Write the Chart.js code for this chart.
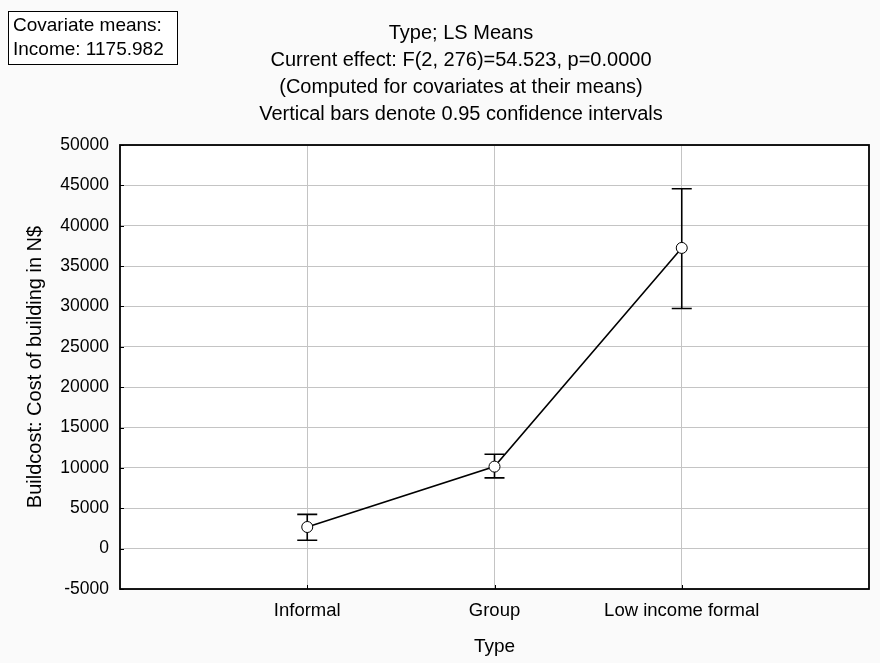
<!DOCTYPE html>
<html><head><meta charset="utf-8">
<script src="https://cdn.jsdelivr.net/npm/chart.js@4/dist/chart.umd.min.js"></script>
<style>html,body{margin:0;padding:0;background:#fafafa;overflow:hidden}</style>
</head><body>
<canvas id="c" width="880" height="663"></canvas>
<script>
const categories = ['Informal', 'Group', 'Low income formal'];
const lsMeans = [2680, 10160, 37250];
const ciLower = [1030, 8760, 29750];
const ciUpper = [4250, 11700, 44580];
const yMin = -5000, yMax = 50000, yStep = 5000;
const titleLines = [
  'Type; LS Means',
  'Current effect: F(2, 276)=54.523, p=0.0000',
  '(Computed for covariates at their means)',
  'Vertical bars denote 0.95 confidence intervals'
];
const covariateLines = ['Covariate means:', 'Income: 1175.982'];
const xTitle = 'Type';
const yTitle = 'Buildcost: Cost of building in N$';

const FONT = '"Liberation Sans", Arial, sans-serif';

const decor = {
  id: 'decor',
  beforeDraw(chart) {
    const {ctx, chartArea: a} = chart;
    ctx.save();
    ctx.fillStyle = '#ffffff';
    ctx.fillRect(a.left, a.top, a.right - a.left, a.bottom - a.top);
    ctx.restore();
  },
  beforeDatasetsDraw(chart) {
    const {ctx} = chart;
    const xs = chart.scales.x, ys = chart.scales.y;
    ctx.save();
    ctx.strokeStyle = '#000';
    ctx.lineWidth = 1.6;
    for (let i = 0; i < lsMeans.length; i++) {
      const x = xs.getPixelForValue(i + 1);
      const yl = ys.getPixelForValue(ciLower[i]);
      const yu = ys.getPixelForValue(ciUpper[i]);
      ctx.beginPath();
      ctx.moveTo(x, yl); ctx.lineTo(x, yu);
      ctx.moveTo(x - 10, yl); ctx.lineTo(x + 10, yl);
      ctx.moveTo(x - 10, yu); ctx.lineTo(x + 10, yu);
      ctx.stroke();
    }
    ctx.restore();
  },
  afterDraw(chart) {
    const {ctx, chartArea: a} = chart;
    const xs = chart.scales.x, ys = chart.scales.y;
    ctx.save();
    ctx.strokeStyle = '#000';
    ctx.lineWidth = 1.8;
    ctx.strokeRect(a.left, a.top, a.right - a.left, a.bottom - a.top);
    ctx.lineWidth = 1;
    ctx.beginPath();
    ys.ticks.forEach(t => {
      const y = Math.round(ys.getPixelForValue(t.value)) + 0.5;
      ctx.moveTo(a.left, y); ctx.lineTo(a.left + 4, y);
    });
    for (let i = 1; i <= categories.length; i++) {
      const x = Math.round(xs.getPixelForValue(i)) + 0.5;
      ctx.moveTo(x, a.bottom); ctx.lineTo(x, a.bottom - 4);
    }
    ctx.stroke();
    ctx.fillStyle = '#000';
    ctx.font = '20px ' + FONT;
    ctx.textAlign = 'center';
    ctx.textBaseline = 'middle';
    titleLines.forEach((t, i) => ctx.fillText(t, 461, 33 + i * 27.3));
    ctx.fillStyle = '#ffffff';
    ctx.fillRect(8, 11, 169, 53);
    ctx.lineWidth = 1;
    ctx.strokeStyle = '#000';
    ctx.strokeRect(8.5, 11.5, 169, 53);
    ctx.fillStyle = '#000';
    ctx.textAlign = 'left';
    ctx.font = '19px ' + FONT;
    covariateLines.forEach((t, i) => ctx.fillText(t, 13, 26 + i * 24));
    ctx.restore();
  }
};

new Chart(document.getElementById('c'), {
  type: 'line',
  data: {
    datasets: [{
      data: lsMeans.map((v, i) => ({x: i + 1, y: v})),
      borderColor: '#000',
      borderWidth: 1.6,
      pointRadius: 5.5,
      pointBackgroundColor: '#fff',
      pointBorderColor: '#000',
      pointBorderWidth: 1,
      tension: 0
    }]
  },
  options: {
    responsive: false,
    devicePixelRatio: 1,
    animation: false,
    layout: {padding: {top: 145, right: 9, left: 0, bottom: 0}},
    plugins: {legend: {display: false}, tooltip: {enabled: false}, title: {display: false}},
    scales: {
      x: {
        type: 'linear', min: 0, max: categories.length + 1,
        afterFit(s) { s.height = 74; },
        afterBuildTicks(s) { s.ticks = [0,1,2,3,4].map(v => ({value: v})); },
        ticks: {
          color: '#000', font: {family: FONT, size: 18.5}, padding: 11, maxRotation: 0,
          autoSkip: false,
          callback: v => categories[v - 1] || ''
        },
        grid: {
          drawTicks: false,
          color: c => (c.tick && c.tick.value >= 1 && c.tick.value <= categories.length) ? '#c4c4c4' : 'rgba(0,0,0,0)',
          lineWidth: 1
        },
        border: {display: false},
        title: {display: true, text: xTitle, color: '#000', font: {family: FONT, size: 19}, padding: {top: 0, bottom: 5}}
      },
      y: {
        min: yMin, max: yMax,
        afterFit(s) { s.width = 120; },
        ticks: {
          stepSize: yStep, color: '#000', font: {family: FONT, size: 17.5}, padding: 11,
          callback: v => String(v)
        },
        grid: {drawTicks: false, color: '#c4c4c4', lineWidth: 1},
        border: {display: false},
        title: {display: true, text: yTitle, color: '#000', font: {family: FONT, size: 20}, padding: {top: 23, bottom: 0}}
      }
    }
  },
  plugins: [decor]
});
</script>
</body></html>
